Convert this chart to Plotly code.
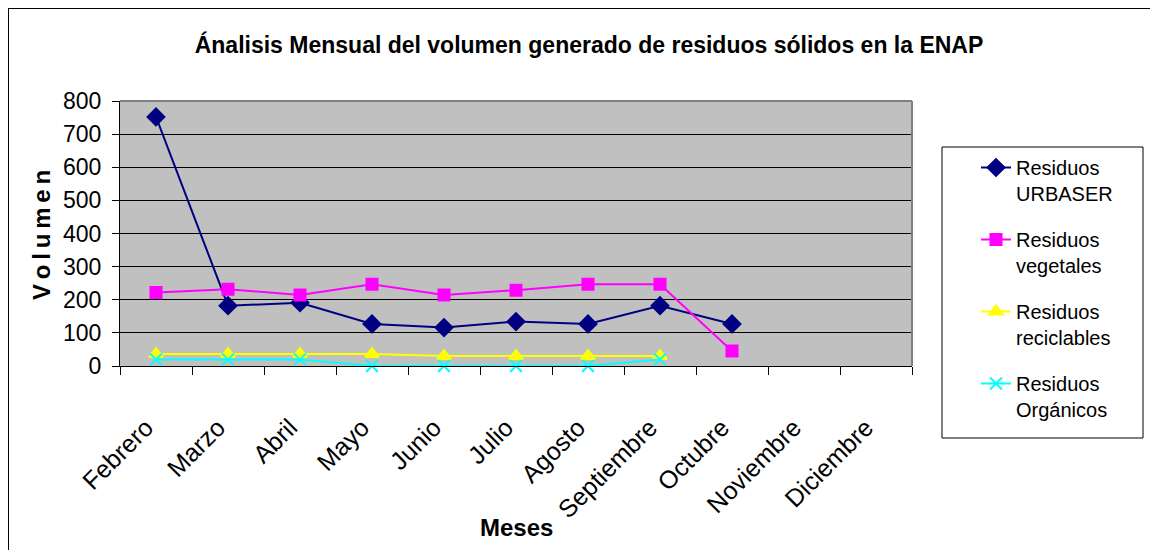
import plotly.graph_objects as go

meses = ["Febrero", "Marzo", "Abril", "Mayo", "Junio", "Julio", "Agosto",
         "Septiembre", "Octubre", "Noviembre", "Diciembre"]
urbaser = [752, 182, 191, 127, 116, 134, 127, 182, 127, None, None]
vegetales = [222, 232, 214, 247, 214, 229, 247, 247, 45, None, None]
reciclables = [36, 36, 36, 36, 30, 30, 30, 30, None, None, None]
organicos = [20, 20, 20, 0, 0, 0, 0, 20, None, None, None]

# page has an 8px body margin; work in figure coordinates = page - 8
OFF = 8
W, H = 1158 - OFF, 550 - OFF
L, R, T, B = 120 - OFF, 912 - OFF, 101 - OFF, 366 - OFF

SANS = "Liberation Sans, Arial, sans-serif"

fig = go.Figure()
series = [
    ("Residuos<br>URBASER", urbaser, "#000080", "diamond", 13),
    ("Residuos<br>vegetales", vegetales, "#FF00FF", "square", 11),
    ("Residuos<br>reciclables", reciclables, "#FFFF00", "triangle-up", 12),
    ("Residuos<br>Orgánicos", organicos, "#00FFFF", "x-thin-open", 12),
]
for i, (name, vals, col, sym, sz) in enumerate(series):
    fig.add_trace(go.Scatter(
        x=meses, y=vals, name=name, mode="lines+markers", legendgroup=f"g{i}",
        line=dict(color=col, width=2), cliponaxis=False,
        marker=dict(symbol=sym, size=sz, color=col, line=dict(color=col, width=2)),
        connectgaps=False,
    ))

def px(x):
    return (x - OFF - L) / (R - L)

def py(y):
    return (B - (y - OFF)) / (B - T)

fig.update_layout(
    width=W, height=H,
    margin=dict(l=L, r=W - R, t=T, b=H - B, autoexpand=False),
    paper_bgcolor="white", plot_bgcolor="#C0C0C0",
    title=dict(text="<b>Ánalisis Mensual del volumen generado de residuos sólidos en la ENAP</b>",
               x=(589 - OFF) / W, xanchor="center", y=1 - (45 - OFF) / H, yanchor="middle",
               font=dict(family=SANS, size=23, color="black")),
    showlegend=True,
    legend=dict(x=px(976), y=py(148), xanchor="left", yanchor="top",
                borderwidth=0, bgcolor="rgba(0,0,0,0)",
                font=dict(family=SANS, size=20, color="black"),
                tracegroupgap=17, valign="top", maxheight=500),
    xaxis=dict(
        type="category", range=[-0.5, 10.5], tickangle=-45,
        tickfont=dict(family=SANS, size=25, color="black"),
        ticklabelstandoff=36, ticklabelshift=-10,
        showgrid=False, showline=True, linecolor="black", linewidth=1,
        ticks="outside", tickson="boundaries", ticklen=8, tickcolor="black",
        zeroline=False,
    ),
    yaxis=dict(
        range=[0, 800], dtick=100, tickmode="linear", tick0=0,
        tickfont=dict(family=SANS, size=23, color="black"),
        ticklabelstandoff=6,
        showgrid=True, gridcolor="black", gridwidth=1,
        showline=True, linecolor="black", linewidth=1,
        ticks="outside", ticklen=7, tickcolor="black",
        zeroline=False,
    ),
    annotations=[
        dict(text="<b>Meses</b>", xref="paper", yref="paper", x=px(516), y=py(527),
             xanchor="center", yanchor="middle", showarrow=False,
             font=dict(family=SANS, size=24, color="black")),
        dict(text="<b>V\u2009o\u2009l\u2009u\u2009m\u2009e\u2009n</b>", xref="paper", yref="paper",
             x=px(41), y=py(235), xanchor="center", yanchor="middle", showarrow=False,
             textangle=-90, font=dict(family=SANS, size=24, color="black")),
    ],
)

# plot area frame (top/right gray), legend box and outer chart border
fig.add_shape(type="line", xref="paper", yref="paper", x0=0, x1=1, y0=1, y1=1,
              line=dict(color="#808080", width=2))
fig.add_shape(type="line", xref="paper", yref="paper", x0=1, x1=1, y0=0, y1=1,
              line=dict(color="#808080", width=2))
fig.add_shape(type="rect", xref="paper", yref="paper", x0=px(942), x1=px(1143), y0=py(147), y1=py(438),
              line=dict(color="black", width=1), fillcolor="white", layer="below")
fig.add_shape(type="line", xref="paper", yref="paper", x0=px(8), x1=px(8), y0=py(560), y1=py(8),
              line=dict(color="black", width=2))
fig.add_shape(type="line", xref="paper", yref="paper", x0=px(8), x1=px(1170), y0=py(8), y1=py(8),
              line=dict(color="black", width=2))

fig.write_html("out.html")
